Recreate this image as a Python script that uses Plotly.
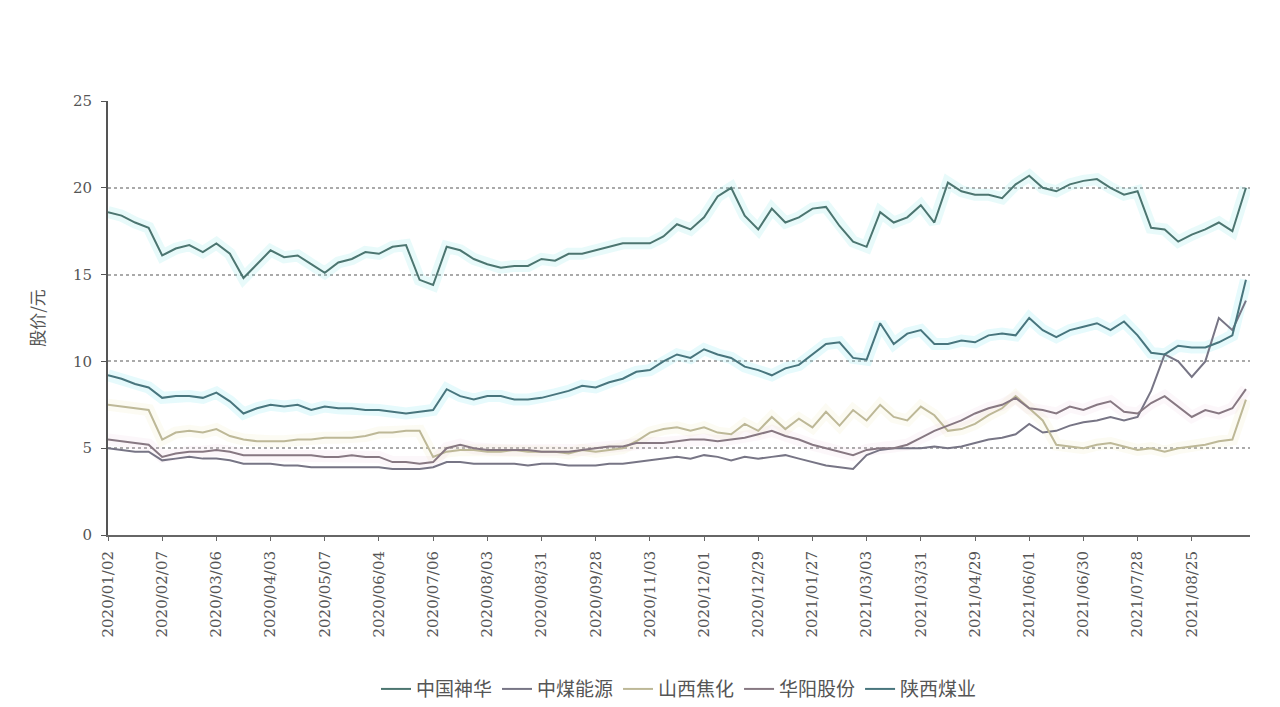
import plotly.graph_objects as go

# trading-day index of each sample (every 5 trading days, starting 2020/01/02)
STEP = 5
tick_labels = ["2020/01/02", "2020/02/07", "2020/03/06", "2020/04/03", "2020/05/07",
               "2020/06/04", "2020/07/06", "2020/08/03", "2020/08/31", "2020/09/28",
               "2020/11/03", "2020/12/01", "2020/12/29", "2021/01/27", "2021/03/03",
               "2021/03/31", "2021/04/29", "2021/06/01", "2021/06/30", "2021/07/28",
               "2021/08/25"]
tick_days = [i * 20 for i in range(len(tick_labels))]

shenhua = [18.6, 18.4, 18.0, 17.7, 16.1, 16.5, 16.7, 16.3, 16.8, 16.2,
           14.8, 15.6, 16.4, 16.0, 16.1, 15.6, 15.1, 15.7, 15.9, 16.3,
           16.2, 16.6, 16.7, 14.7, 14.4, 16.6, 16.4, 15.9, 15.6, 15.4,
           15.5, 15.5, 15.9, 15.8, 16.2, 16.2, 16.4, 16.6, 16.8, 16.8,
           16.8, 17.2, 17.9, 17.6, 18.3, 19.5, 20.0, 18.4, 17.6, 18.8,
           18.0, 18.3, 18.8, 18.9, 17.8, 16.9, 16.6, 18.6, 18.0, 18.3,
           19.0, 18.0, 20.3, 19.8, 19.6, 19.6, 19.4, 20.2, 20.7, 20.0,
           19.8, 20.2, 20.4, 20.5, 20.0, 19.6, 19.8, 17.7, 17.6, 16.9,
           17.3, 17.6, 18.0, 17.5, 20.0]

zhongmei = [5.0, 4.9, 4.8, 4.8, 4.3, 4.4, 4.5, 4.4, 4.4, 4.3,
            4.1, 4.1, 4.1, 4.0, 4.0, 3.9, 3.9, 3.9, 3.9, 3.9,
            3.9, 3.8, 3.8, 3.8, 3.9, 4.2, 4.2, 4.1, 4.1, 4.1,
            4.1, 4.0, 4.1, 4.1, 4.0, 4.0, 4.0, 4.1, 4.1, 4.2,
            4.3, 4.4, 4.5, 4.4, 4.6, 4.5, 4.3, 4.5, 4.4, 4.5,
            4.6, 4.4, 4.2, 4.0, 3.9, 3.8, 4.6, 4.9, 5.0, 5.0,
            5.0, 5.1, 5.0, 5.1, 5.3, 5.5, 5.6, 5.8, 6.4, 5.9,
            6.0, 6.3, 6.5, 6.6, 6.8, 6.6, 6.8, 8.3, 10.4, 10.0,
            9.1, 10.0, 12.5, 11.8, 13.5]

shanxi_jiaohua = [7.5, 7.4, 7.3, 7.2, 5.5, 5.9, 6.0, 5.9, 6.1, 5.7,
                  5.5, 5.4, 5.4, 5.4, 5.5, 5.5, 5.6, 5.6, 5.6, 5.7,
                  5.9, 5.9, 6.0, 6.0, 4.5, 4.8, 4.9, 4.9, 4.8, 4.8,
                  4.9, 4.8, 4.8, 4.8, 4.7, 4.9, 4.8, 4.9, 5.0, 5.4,
                  5.9, 6.1, 6.2, 6.0, 6.2, 5.9, 5.8, 6.4, 6.0, 6.8,
                  6.1, 6.7, 6.2, 7.1, 6.3, 7.2, 6.6, 7.5, 6.8, 6.6,
                  7.4, 6.9, 6.0, 6.1, 6.4, 6.9, 7.3, 8.0, 7.3, 6.6,
                  5.2, 5.1, 5.0, 5.2, 5.3, 5.1, 4.9, 5.0, 4.8, 5.0,
                  5.1, 5.2, 5.4, 5.5, 7.8]

huayang = [5.5, 5.4, 5.3, 5.2, 4.5, 4.7, 4.8, 4.8, 4.9, 4.8,
           4.6, 4.6, 4.6, 4.6, 4.6, 4.6, 4.5, 4.5, 4.6, 4.5,
           4.5, 4.2, 4.2, 4.1, 4.2, 5.0, 5.2, 5.0, 4.9, 4.9,
           4.9, 4.9, 4.8, 4.8, 4.8, 4.9, 5.0, 5.1, 5.1, 5.3,
           5.3, 5.3, 5.4, 5.5, 5.5, 5.4, 5.5, 5.6, 5.8, 6.0,
           5.7, 5.5, 5.2, 5.0, 4.8, 4.6, 4.9, 5.0, 5.0, 5.2,
           5.6, 6.0, 6.3, 6.6, 7.0, 7.3, 7.5, 7.9, 7.3, 7.2,
           7.0, 7.4, 7.2, 7.5, 7.7, 7.1, 7.0, 7.6, 8.0, 7.4,
           6.8, 7.2, 7.0, 7.3, 8.4]

shaanxi = [9.2, 9.0, 8.7, 8.5, 7.9, 8.0, 8.0, 7.9, 8.2, 7.7,
           7.0, 7.3, 7.5, 7.4, 7.5, 7.2, 7.4, 7.3, 7.3, 7.2,
           7.2, 7.1, 7.0, 7.1, 7.2, 8.4, 8.0, 7.8, 8.0, 8.0,
           7.8, 7.8, 7.9, 8.1, 8.3, 8.6, 8.5, 8.8, 9.0, 9.4,
           9.5, 10.0, 10.4, 10.2, 10.7, 10.4, 10.2, 9.7, 9.5, 9.2,
           9.6, 9.8, 10.4, 11.0, 11.1, 10.2, 10.1, 12.2, 11.0, 11.6,
           11.8, 11.0, 11.0, 11.2, 11.1, 11.5, 11.6, 11.5, 12.5, 11.8,
           11.4, 11.8, 12.0, 12.2, 11.8, 12.3, 11.5, 10.5, 10.4, 10.9,
           10.8, 10.8, 11.1, 11.5, 14.7]

names = ["中国神华", "中煤能源", "山西焦化", "华阳股份", "陕西煤业"]
series = [shenhua, zhongmei, shanxi_jiaohua, huayang, shaanxi]
colors = ["#4c7570", "#777585", "#bdb897", "#877882", "#48757d"]
glows = ["rgba(130,230,230,0.18)", None, "rgba(235,230,170,0.14)",
         "rgba(230,190,210,0.12)", "rgba(130,230,240,0.20)"]

days = [i * STEP for i in range(len(shenhua))]

fig = go.Figure()
for s, g in zip(series, glows):
    if g:
        fig.add_trace(go.Scatter(x=days, y=s, mode="lines", showlegend=False, hoverinfo="skip",
                                 line=dict(color=g, width=12)))
for n, s, c in zip(names, series, colors):
    fig.add_trace(go.Scatter(x=days, y=s, mode="lines", name=n,
                             line=dict(color=c, width=2)))

fig.update_layout(
    width=1280, height=707,
    paper_bgcolor="white", plot_bgcolor="white",
    margin=dict(l=108, r=30, t=101, b=172, autoexpand=False),
    showlegend=True,
    legend=dict(orientation="h", x=0.5, xanchor="center", y=-0.355, yanchor="middle",
                font=dict(family="Noto Sans CJK SC", size=19, color="#555"),
                itemwidth=30, tracegroupgap=0),
    font=dict(family="DejaVu Serif", color="#555"),
)
fig.update_xaxes(
    range=[0, 421.5], tickmode="array", tickvals=tick_days, ticktext=tick_labels,
    tickangle=-90, tickfont=dict(family="DejaVu Serif", size=15, color="#555"),
    showline=True, linecolor="#666", linewidth=2, ticks="outside", ticklen=4,
    tickcolor="#666", showgrid=False, zeroline=False, automargin=False,
    ticklabelstandoff=4,
)
fig.update_yaxes(
    range=[0, 25], tickvals=[0, 5, 10, 15, 20, 25],
    tickfont=dict(family="DejaVu Serif", size=15, color="#555"),
    showline=True, linecolor="#555", linewidth=2, ticks="outside", ticklen=5, tickcolor="#555",
    showgrid=True, gridcolor="#aaaaaa", griddash="dot", gridwidth=1.5, zeroline=False,
    automargin=False, ticklabelstandoff=6,
    title=dict(text="股价/元", font=dict(family="Noto Sans CJK SC", size=17, color="#555"), standoff=24),
)

fig.write_html("out.html")
